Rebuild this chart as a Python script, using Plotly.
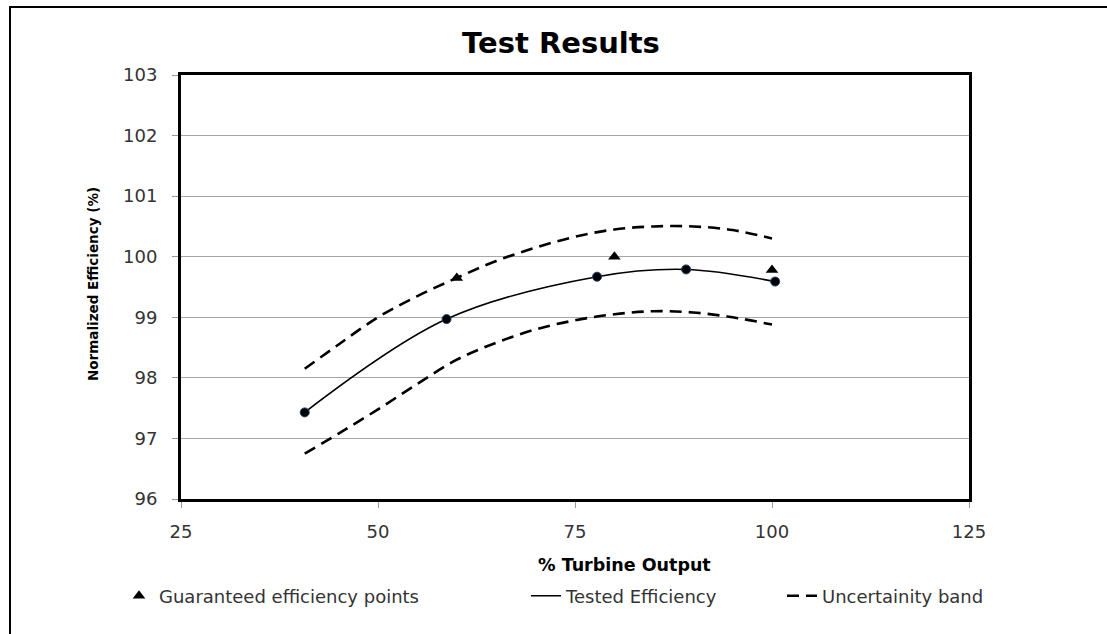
import plotly.graph_objects as go

# Data
tested_x = [40.7, 58.7, 77.8, 89.1, 100.4]
tested_y = [97.43, 98.97, 99.67, 99.79, 99.59]

guaranteed_x = [60, 80, 100]
guaranteed_y = [99.65, 100.0, 99.78]

band_x = [40.7, 45, 50, 55, 60, 65, 70, 75, 80, 85, 90, 95, 100]
upper_y = [98.15, 98.55, 99.0, 99.35, 99.65, 99.93, 100.15, 100.33, 100.45, 100.5, 100.5, 100.44, 100.3]
lower_y = [96.75, 97.08, 97.48, 97.9, 98.3, 98.58, 98.8, 98.95, 99.05, 99.1, 99.08, 99.0, 98.88]

x_ticks = [25, 50, 75, 100, 125]
y_ticks = [96, 97, 98, 99, 100, 101, 102, 103]

FONT = "DejaVu Sans"
TXT = "#333333"

fig = go.Figure()

fig.add_trace(go.Scatter(
    x=guaranteed_x, y=guaranteed_y, mode="markers",
    name="Guaranteed efficiency points",
    marker=dict(symbol="triangle-up", size=11, color="black"),
    legend="legend",
))
fig.add_trace(go.Scatter(
    x=tested_x, y=tested_y, mode="lines", line_shape="spline",
    name="Tested Efficiency",
    line=dict(color="black", width=1.6),
    legend="legend2",
))
fig.add_trace(go.Scatter(
    x=tested_x, y=tested_y, mode="markers", showlegend=False,
    marker=dict(symbol="circle", size=9, color="black",
                line=dict(color="#1f3f6e", width=1)),
))
fig.add_trace(go.Scatter(
    x=band_x, y=upper_y, mode="lines", line_shape="spline",
    name="Uncertainity band",
    line=dict(color="black", width=2.6, dash="12px,7px"),
    legend="legend3",
))
fig.add_trace(go.Scatter(
    x=band_x, y=lower_y, mode="lines", line_shape="spline",
    showlegend=False,
    line=dict(color="black", width=2.6, dash="12px,7px"),
))

W, H = 1107, 634
L, R, T, B = 181, W - 969, 75, H - 499
pw, ph = W - L - R, H - T - B

def px(xp):
    return (xp - L) / pw

def py(yp):
    return (H - B - yp) / ph

legend_common = dict(orientation="h", yanchor="middle", y=py(596),
                     xanchor="left", font=dict(family=FONT, size=18, color=TXT),
                     bgcolor="rgba(0,0,0,0)", itemwidth=30)

fig.update_layout(
    width=W, height=H,
    margin=dict(l=L, r=R, t=T, b=B),
    paper_bgcolor="white", plot_bgcolor="white",
    title=dict(text="<b>Test Results</b>", xref="container", x=561 / W, xanchor="center",
               yref="container", y=1 - 43 / H, yanchor="middle",
               font=dict(family=FONT, size=29, color="black")),
    xaxis=dict(range=[25, 125], tickvals=x_ticks, showgrid=False,
               showline=True, linecolor="black", linewidth=3, mirror=True,
               ticks="outside", ticklen=6, tickcolor="#999999",
               tickfont=dict(family=FONT, size=18, color=TXT),
               ticklabelstandoff=8, zeroline=False),
    yaxis=dict(range=[96, 103], tickvals=y_ticks, showgrid=True,
               gridcolor="#a6a6a6", gridwidth=1,
               showline=True, linecolor="black", linewidth=3, mirror=True,
               ticks="outside", ticklen=6, tickcolor="#999999",
               tickfont=dict(family=FONT, size=18, color=TXT),
               ticklabelstandoff=11, zeroline=False),
    legend=dict(legend_common, x=px(119)),
    legend2=dict(legend_common, x=px(526)),
    legend3=dict(legend_common, x=px(782)),
    annotations=[
        dict(text="<b>% Turbine Output</b>", xref="paper", yref="paper",
             x=px(624), y=py(565), xanchor="center", yanchor="middle",
             showarrow=False, font=dict(family=FONT, size=17.5, color="black")),
        dict(text="<b>Normalized Efficiency (%)</b>", xref="paper", yref="paper",
             x=px(93), y=py(284), xanchor="center", yanchor="middle", textangle=-90,
             showarrow=False, font=dict(family=FONT, size=13.5, color="black")),
    ],
    shapes=[dict(type="rect", xref="paper", yref="paper",
                 x0=px(10), x1=px(1130), y0=py(660), y1=py(7),
                 line=dict(color="black", width=2), layer="below")],
    showlegend=True,
)

fig.write_html("out.html", config={"displayModeBar": False},
               post_script="document.body.style.margin='0';")
